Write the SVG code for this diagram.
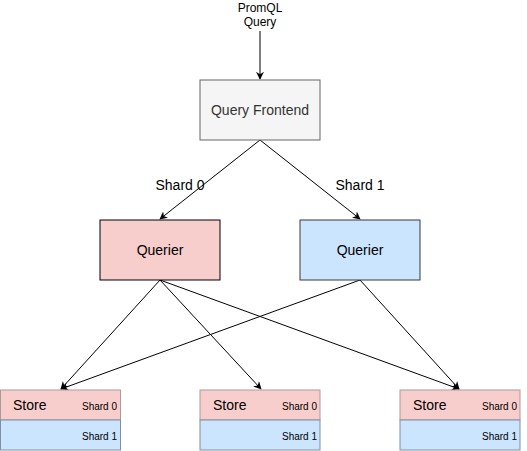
<svg xmlns="http://www.w3.org/2000/svg" width="527" height="451" viewBox="0 0 527 451">
<style>
text{font-family:"Liberation Sans",Arial,sans-serif;fill:#000}
.c{text-anchor:middle}
.r{text-anchor:end;font-size:10px}
.edge{fill:none;stroke:#000;stroke-width:1}
.pink{fill:#f8cecc;stroke:#b09898;stroke-width:1}
.blue{fill:#cce5ff;stroke:#7f8fa3;stroke-width:1}
</style>
<defs>
<marker id="arr" viewBox="0 0 10 10" refX="9" refY="5" markerWidth="8" markerHeight="8" orient="auto" markerUnits="userSpaceOnUse">
<path d="M0,0 L10,5 L0,10 L3,5 z" fill="#000"/>
</marker>
</defs>
<rect width="527" height="451" fill="#fff"/>
<g id="connectors">
<line class="edge" x1="260" y1="31" x2="260" y2="79" marker-end="url(#arr)"/>
<line class="edge" x1="260" y1="140" x2="160" y2="219" marker-end="url(#arr)"/>
<line class="edge" x1="260" y1="140" x2="360" y2="219" marker-end="url(#arr)"/>
<line class="edge" x1="160" y1="280" x2="61" y2="389" marker-end="url(#arr)"/>
<line class="edge" x1="160" y1="280" x2="261" y2="389" marker-end="url(#arr)"/>
<line class="edge" x1="160" y1="280" x2="459" y2="389" marker-end="url(#arr)"/>
<line class="edge" x1="360" y1="280" x2="61" y2="389" marker-end="url(#arr)"/>
<line class="edge" x1="360" y1="280" x2="459" y2="389" marker-end="url(#arr)"/>
<text class="c" x="180" y="190" font-size="14">Shard 0</text>
<text class="c" x="360" y="190" font-size="14">Shard 1</text>
</g>
<g id="input">
<text class="c" x="260" y="12" font-size="12">PromQL</text>
<text class="c" x="260" y="26" font-size="12">Query</text>
</g>
<g id="query-frontend">
<rect x="200" y="80" width="120" height="60" fill="#f5f5f5" stroke="#666"/>
<text class="c" x="260" y="115" font-size="14" style="fill:#333">Query Frontend</text>
</g>
<g id="querier-0">
<rect x="100" y="220" width="120" height="60" fill="#f8cecc" stroke="#000"/>
<text class="c" x="160" y="255" font-size="14">Querier</text>
</g>
<g id="querier-1">
<rect x="300" y="220" width="120" height="60" fill="#cce5ff" stroke="#36393d"/>
<text class="c" x="360" y="255" font-size="14">Querier</text>
</g>
<g id="store-0">
<rect class="pink" x="0.5" y="390" width="120" height="30"/>
<rect class="blue" x="0.5" y="420" width="120" height="30"/>
<text x="13" y="410" font-size="14">Store</text>
<text class="r" x="117" y="410">Shard 0</text>
<text class="r" x="117" y="440">Shard 1</text>
</g>
<g id="store-1">
<rect class="pink" x="200" y="390" width="120" height="30"/>
<rect class="blue" x="200" y="420" width="120" height="30"/>
<text x="213" y="410" font-size="14">Store</text>
<text class="r" x="317" y="410">Shard 0</text>
<text class="r" x="317" y="440">Shard 1</text>
</g>
<g id="store-2">
<rect class="pink" x="400" y="390" width="120" height="30"/>
<rect class="blue" x="400" y="420" width="120" height="30"/>
<text x="413" y="410" font-size="14">Store</text>
<text class="r" x="517" y="410">Shard 0</text>
<text class="r" x="517" y="440">Shard 1</text>
</g>
</svg>
